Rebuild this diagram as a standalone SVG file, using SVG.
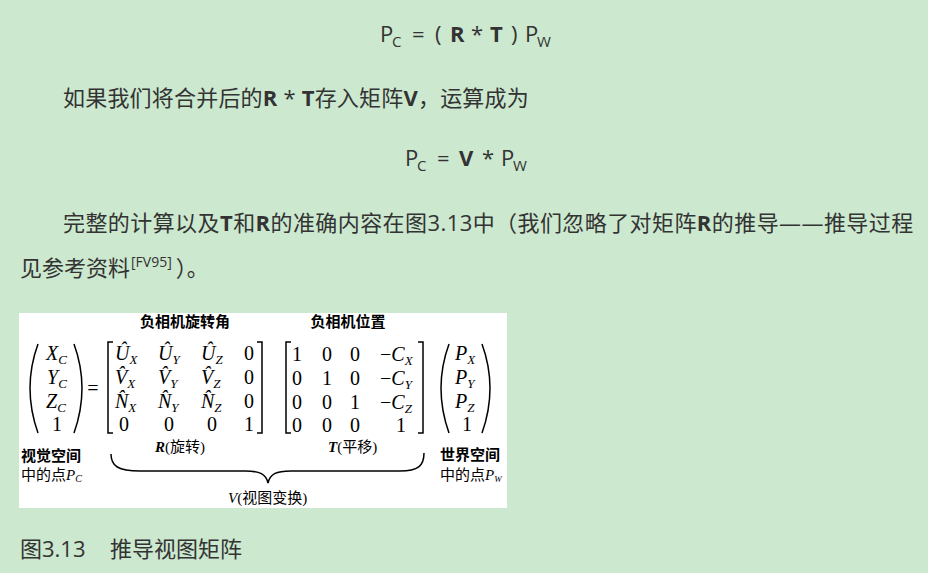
<svg xmlns="http://www.w3.org/2000/svg" width="928" height="573" viewBox="0 0 928 573">
<style>
.t{font-family:"Open Sans","Noto Sans CJK SC",sans-serif;font-size:22px;fill:#333}
.b{font-weight:bold}
.sub{font-size:15px}
.m{font-family:"Liberation Serif","Noto Sans CJK SC",serif;font-size:20px;fill:#000}
.i{font-style:italic}
.ms{font-size:13px}
.cn{font-family:"Liberation Serif","Noto Sans CJK SC",serif;font-size:15px;fill:#000}
.ln{fill:none;stroke:#000;stroke-width:1.5}
.c{text-anchor:middle}
</style>
<rect width="928" height="573" fill="#cce8cf"/>

<g id="formula1" class="t">
<text x="380" y="42">P</text>
<text x="392" y="47" class="sub">C</text>
<text x="412" y="42">=</text>
<text x="435" y="42">(</text>
<text x="450" y="42" class="b">R</text>
<text x="471" y="42">*</text>
<text x="490" y="42" class="b">T</text>
<text x="511" y="42">)</text>
<text x="525" y="42">P</text>
<text x="537" y="47" class="sub">W</text>
</g>

<text id="line2" class="t" x="63" y="106" letter-spacing="0.2">如果我们将合并后的<tspan class="b">R</tspan> * <tspan class="b">T</tspan>存入矩阵<tspan class="b">V</tspan>，运算成为</text>

<g id="formula2" class="t">
<text x="405" y="166">P</text>
<text x="417" y="171" class="sub">C</text>
<text x="437" y="166">=</text>
<text x="459" y="166" class="b">V</text>
<text x="482" y="166">*</text>
<text x="501" y="166">P</text>
<text x="513" y="171" class="sub">W</text>
</g>

<text id="line4" class="t" x="63" y="231" letter-spacing="0.42">完整的计算以及<tspan class="b">T</tspan>和<tspan class="b">R</tspan>的准确内容在图3.13中（我们忽略了对矩阵<tspan class="b">R</tspan>的推导——推导过程</text>
<text id="line5" class="t" x="20" y="276">见参考资料<tspan font-size="14" dx="1" dy="-9">[FV95]</tspan><tspan dx="4" dy="9">）。</tspan></text>

<g id="figure">
<rect x="19" y="313" width="488" height="195" fill="#fff"/>
<text class="cn c" x="185" y="327" font-weight="bold" font-size="16">负相机旋转角</text>
<text class="cn c" x="348" y="327" font-weight="bold" font-size="16">负相机位置</text>

<g id="vecC">
<path class="ln" d="M38,344 Q22,388 38,433"/>
<path class="ln" d="M74,344 Q90,388 74,433"/>
<text class="m i" x="46" y="360">X<tspan class="ms" dy="4">C</tspan></text>
<text class="m i" x="47" y="384">Y<tspan class="ms" dy="4">C</tspan></text>
<text class="m i" x="46" y="408">Z<tspan class="ms" dy="4">C</tspan></text>
<text class="m c" x="57" y="431">1</text>
</g>

<text class="m c" x="93" y="395" font-size="22">=</text>

<g id="matR">
<path class="ln" d="M113,342 L108,342 L108,433 L113,433"/>
<path class="ln" d="M257,342 L262,342 L262,433 L257,433"/>
<text class="m i" x="115" y="360">Û<tspan class="ms" dy="4">X</tspan></text>
<text class="m i" x="158" y="360">Û<tspan class="ms" dy="4">Y</tspan></text>
<text class="m i" x="201" y="360">Û<tspan class="ms" dy="4">Z</tspan></text>
<text class="m c" x="249" y="360">0</text>
<text class="m i" x="115" y="384">V&#x302;<tspan class="ms" dy="4">X</tspan></text>
<text class="m i" x="158" y="384">V&#x302;<tspan class="ms" dy="4">Y</tspan></text>
<text class="m i" x="201" y="384">V&#x302;<tspan class="ms" dy="4">Z</tspan></text>
<text class="m c" x="249" y="384">0</text>
<text class="m i" x="115" y="408">N&#x302;<tspan class="ms" dy="4">X</tspan></text>
<text class="m i" x="158" y="408">N&#x302;<tspan class="ms" dy="4">Y</tspan></text>
<text class="m i" x="201" y="408">N&#x302;<tspan class="ms" dy="4">Z</tspan></text>
<text class="m c" x="249" y="408">0</text>
<text class="m c" x="124" y="431">0</text>
<text class="m c" x="169" y="431">0</text>
<text class="m c" x="212" y="431">0</text>
<text class="m c" x="249" y="431">1</text>
</g>

<g id="matT">
<path class="ln" d="M291,342 L286,342 L286,433 L291,433"/>
<path class="ln" d="M418,342 L423,342 L423,433 L418,433"/>
<text class="m c" x="297" y="361">1</text>
<text class="m c" x="327" y="361">0</text>
<text class="m c" x="355" y="361">0</text>
<text class="m" x="380" y="361">−<tspan class="i">C</tspan><tspan class="ms i" dy="4">X</tspan></text>
<text class="m c" x="297" y="385">0</text>
<text class="m c" x="327" y="385">1</text>
<text class="m c" x="355" y="385">0</text>
<text class="m" x="380" y="385">−<tspan class="i">C</tspan><tspan class="ms i" dy="4">Y</tspan></text>
<text class="m c" x="297" y="409">0</text>
<text class="m c" x="327" y="409">0</text>
<text class="m c" x="355" y="409">1</text>
<text class="m" x="380" y="409">−<tspan class="i">C</tspan><tspan class="ms i" dy="4">Z</tspan></text>
<text class="m c" x="297" y="432">0</text>
<text class="m c" x="327" y="432">0</text>
<text class="m c" x="355" y="432">0</text>
<text class="m c" x="401" y="432">1</text>
</g>

<g id="vecP">
<path class="ln" d="M449,344 Q433,388 449,433"/>
<path class="ln" d="M482,344 Q498,388 482,433"/>
<text class="m i" x="455" y="360">P<tspan class="ms" dy="4">X</tspan></text>
<text class="m i" x="455" y="384">P<tspan class="ms" dy="4">Y</tspan></text>
<text class="m i" x="455" y="408">P<tspan class="ms" dy="4">Z</tspan></text>
<text class="m c" x="467" y="431">1</text>
</g>

<text class="cn" x="21" y="461" font-weight="bold">视觉空间</text>
<text class="cn" x="21" y="480">中的点<tspan class="i">P</tspan><tspan class="i" font-size="10" dy="2">C</tspan></text>
<text class="cn" x="440" y="460" font-weight="bold">世界空间</text>
<text class="cn" x="440" y="480">中的点<tspan class="i">P</tspan><tspan class="i" font-size="9" dy="2">W</tspan></text>

<text class="cn" x="155" y="452" font-size="16"><tspan class="i" font-weight="bold">R</tspan>(旋转)</text>
<text class="cn" x="328" y="452" font-size="16"><tspan class="i" font-weight="bold">T</tspan>(平移)</text>
<path class="ln" d="M111,454 C111,466 118,471 140,471 L245,471 C260,471 266,474 268,483 C270,474 276,471 291,471 L400,471 C418,471 424,466 424,453"/>
<text class="cn" x="228" y="503" font-size="16"><tspan class="i">V</tspan>(视图变换)</text>
</g>

<text id="caption" class="t" x="20" y="557">图3.13<tspan x="110">推导视图矩阵</tspan></text>
</svg>
